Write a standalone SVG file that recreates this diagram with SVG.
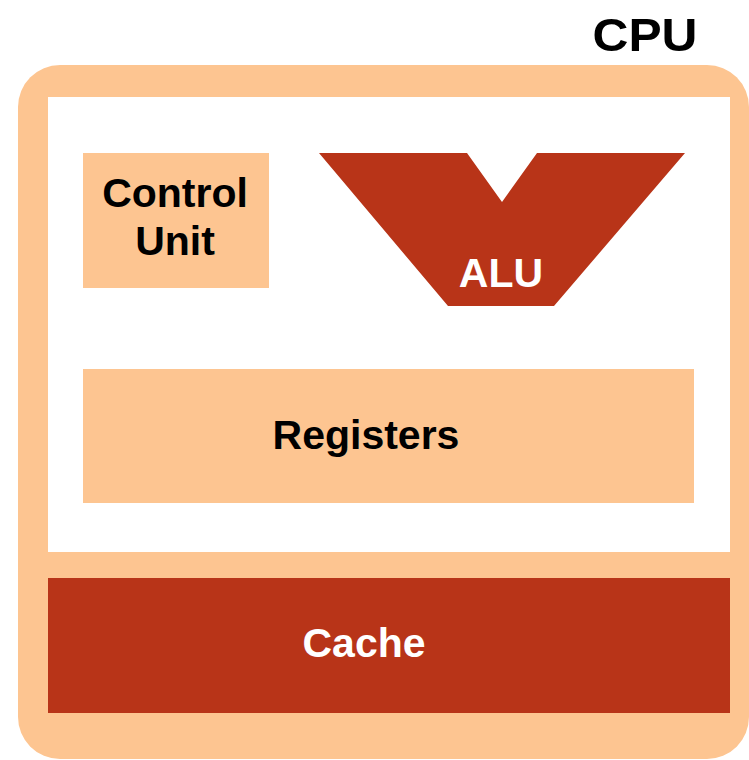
<svg xmlns="http://www.w3.org/2000/svg" width="749" height="760" viewBox="0 0 749 760">
<style>
.lbl{font-family:"Liberation Sans",Arial,sans-serif;font-weight:bold;font-size:41px;text-anchor:middle}
.dark{fill:#000}
.light{fill:#fff}
.peach{fill:#FDC591}
.red{fill:#B83418}
</style>
<rect x="0" y="0" width="749" height="760" fill="#fff"/>
<g id="cpu">
<rect class="peach" x="18" y="65" width="731" height="694" rx="42" ry="42"/>
<rect x="48" y="97" width="682" height="455" fill="#fff"/>
<text class="lbl dark" x="645" y="51" style="font-size:47px" textLength="105" lengthAdjust="spacingAndGlyphs">CPU</text>
</g>
<g id="control-unit">
<rect class="peach" x="83" y="153" width="186" height="135"/>
<text class="lbl dark" x="175" y="207">Control</text>
<text class="lbl dark" x="175" y="255">Unit</text>
</g>
<g id="alu">
<polygon class="red" points="319,153 467,153 502,202 537,153 685,153 554,306 448,306"/>
<text class="lbl light" x="501" y="287">ALU</text>
</g>
<g id="registers">
<rect class="peach" x="83" y="369" width="611" height="134"/>
<text class="lbl dark" x="366" y="449">Registers</text>
</g>
<g id="cache">
<rect class="red" x="48" y="578" width="682" height="135"/>
<text class="lbl light" x="364" y="657">Cache</text>
</g>
</svg>
